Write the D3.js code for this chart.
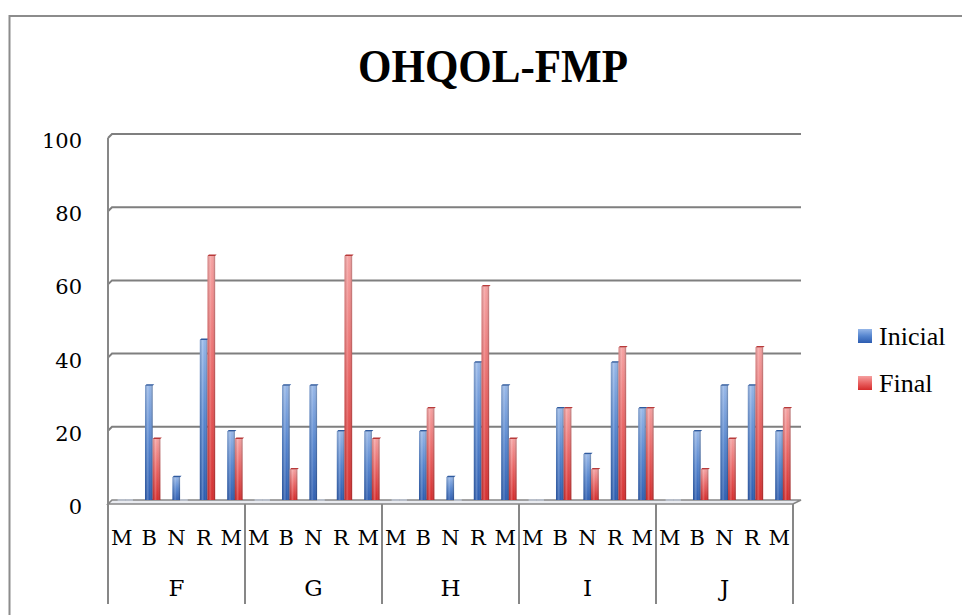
<!DOCTYPE html>
<html>
<head>
<meta charset="utf-8">
<script src="https://cdn.jsdelivr.net/npm/d3@7"></script>
<style>
  html, body { margin: 0; padding: 0; background: #fff; }
  svg { display: block; }
</style>
</head>
<body>
<svg id="chart" width="962" height="615"></svg>
<script>
// ---- Data ----
const title = "OHQOL-FMP";
const groups = ["F", "G", "H", "I", "J"];
const subcats = ["M", "B", "N", "R", "M"];
const seriesNames = ["Inicial", "Final"];
const inicial = [
  [0, 31.25, 6.25, 43.75, 18.75],
  [0, 31.25, 31.25, 18.75, 18.75],
  [0, 18.75, 6.25, 37.5, 31.25],
  [0, 25, 12.5, 37.5, 25],
  [0, 18.75, 31.25, 31.25, 18.75]
];
const final = [
  [0, 16.67, 0, 66.67, 16.67],
  [0, 8.33, 0, 66.67, 16.67],
  [0, 25, 0, 58.33, 16.67],
  [0, 25, 8.33, 41.67, 25],
  [0, 8.33, 16.67, 41.67, 25]
];
const yTicks = [0, 20, 40, 60, 80, 100];

// ---- Layout ----
const svg = d3.select("#chart");
const plotL = 108, plotR = 793, gridR = 801;
const y0 = 500, yTop = 134;
const depth = 4;

const rows = [];
groups.forEach((g, gi) => subcats.forEach((s, si) => {
  rows.push({ key: gi * 5 + si, group: g, sub: s, gi, si,
              values: [inicial[gi][si], final[gi][si]] });
}));

const x = d3.scaleBand().domain(d3.range(rows.length)).range([plotL, plotR]).padding(0);
const bw = x.bandwidth();
const xs = d3.scaleBand().domain(seriesNames).range([bw * 0.35, bw * 0.91]).padding(0);
const y = d3.scaleLinear().domain([0, 100]).range([y0, yTop]);
const gx = d3.scaleBand().domain(groups).range([plotL, plotR]);

// Gradients
const defs = svg.append("defs");
const cols = {
  Inicial: ["#95b6e8", "#5585cf", "#2c5cb0"],
  Final: ["#f5a0a0", "#e96262", "#d52b2b"]
};
seriesNames.forEach(s => {
  const lg = defs.append("linearGradient").attr("id", "g" + s)
    .attr("x1", 0).attr("y1", 0).attr("x2", 0).attr("y2", 1);
  lg.append("stop").attr("offset", "0%").attr("stop-color", cols[s][0]);
  lg.append("stop").attr("offset", "50%").attr("stop-color", cols[s][1]);
  lg.append("stop").attr("offset", "100%").attr("stop-color", cols[s][2]);
});
const sh = defs.append("linearGradient").attr("id", "shine")
  .attr("x1", 0).attr("y1", 0).attr("x2", 1).attr("y2", 0);
[[0, "#000", 0.12], [0.35, "#fff", 0.22], [0.6, "#fff", 0.0], [1, "#000", 0.28]].forEach(d => {
  sh.append("stop").attr("offset", d[0]).attr("stop-color", d[1]).attr("stop-opacity", d[2]);
});

// Outer frame
svg.append("rect").attr("x", 9.5).attr("y", 16).attr("width", 1000).attr("height", 700)
  .attr("fill", "none").attr("stroke", "#8c8c8c").attr("stroke-width", 2);

// Title
svg.append("text").attr("x", 493).attr("y", 82).attr("text-anchor", "middle")
  .attr("font-family", "Liberation Serif, serif").attr("font-weight", "bold")
  .attr("font-size", 46).attr("textLength", 270).attr("lengthAdjust", "spacingAndGlyphs")
  .attr("fill", "#000").text(title);

// Floor
svg.append("path")
  .attr("d", `M${plotL},${y0 + depth} L${plotR},${y0 + depth} L${gridR},${y0} L${plotL + depth},${y0} Z`)
  .attr("fill", "#e9ebf0").attr("stroke", "#868686").attr("stroke-width", 1.6);

// Gridlines (back wall)
svg.append("g").selectAll("path").data(yTicks.filter(t => t > 0)).join("path")
  .attr("d", t => `M${plotL},${y(t) + depth} L${plotL + depth},${y(t)} L${gridR},${y(t)}`)
  .attr("fill", "none").attr("stroke", "#7f7f7f").attr("stroke-width", 2);

// Left wall line
svg.append("line").attr("x1", plotL).attr("x2", plotL)
  .attr("y1", y(100) + depth).attr("y2", 604)
  .attr("stroke", "#878787").attr("stroke-width", 2);

// Y tick labels
svg.append("g").selectAll("text").data(yTicks).join("text")
  .attr("x", 82).attr("y", t => y(t) + 14)
  .attr("text-anchor", "end")
  .attr("font-family", "DejaVu Serif, serif").attr("font-size", 21)
  .attr("fill", "#000").text(t => t);

// Bars
const barG = svg.append("g");
rows.forEach(r => {
  seriesNames.forEach((s, k) => {
    const v = r.values[k];
    const bx = x(r.key) + xs(s);
    const w = xs.bandwidth();
    const by = y(v);
    const h = y0 - by;
    if (v > 0) {
      barG.append("rect").attr("x", bx).attr("y", by).attr("width", w).attr("height", h)
        .attr("fill", `url(#g${s})`);
      barG.append("rect").attr("x", bx).attr("y", by).attr("width", w).attr("height", h)
        .attr("fill", "url(#shine)");
      barG.append("path")
        .attr("d", `M${bx},${by} L${bx + 1.5},${by - 1.5} L${bx + w + 1.5},${by - 1.5} L${bx + w},${by} Z`)
        .attr("fill", s === "Inicial" ? "#2f5a9e" : "#b83a3a");
    } else {
      barG.append("rect").attr("x", bx).attr("y", y0 - 1).attr("width", w).attr("height", 2)
        .attr("fill", "#b9bfca");
    }
  });
});

// Category axis separators
svg.append("g").selectAll("line").data(d3.range(groups.length + 1)).join("line")
  .attr("x1", i => plotL + i * gx.bandwidth()).attr("x2", i => plotL + i * gx.bandwidth())
  .attr("y1", y0 + depth).attr("y2", 604)
  .attr("stroke", "#878787").attr("stroke-width", 2);

// Sub-category labels
svg.append("g").selectAll("text").data(rows).join("text")
  .attr("x", r => x(r.key) + bw / 2).attr("y", 545)
  .attr("text-anchor", "middle")
  .attr("font-family", "DejaVu Serif, serif").attr("font-size", 21)
  .attr("fill", "#000").text(r => r.sub);

// Group labels
svg.append("g").selectAll("text").data(groups).join("text")
  .attr("x", g => gx(g) + gx.bandwidth() / 2).attr("y", 596)
  .attr("text-anchor", "middle")
  .attr("font-family", "DejaVu Serif, serif").attr("font-size", 23)
  .attr("fill", "#000").text(g => g);

// Legend
const leg = svg.append("g");
seriesNames.forEach((s, i) => {
  const ly = 329 + i * 47;
  leg.append("rect").attr("x", 858).attr("y", ly).attr("width", 14).attr("height", 14)
    .attr("fill", `url(#g${s})`);
  leg.append("text").attr("x", 879).attr("y", ly + 16)
    .attr("font-family", "Liberation Serif, serif").attr("font-size", 26)
    .attr("fill", "#000").text(s);
});
</script>
</body>
</html>
